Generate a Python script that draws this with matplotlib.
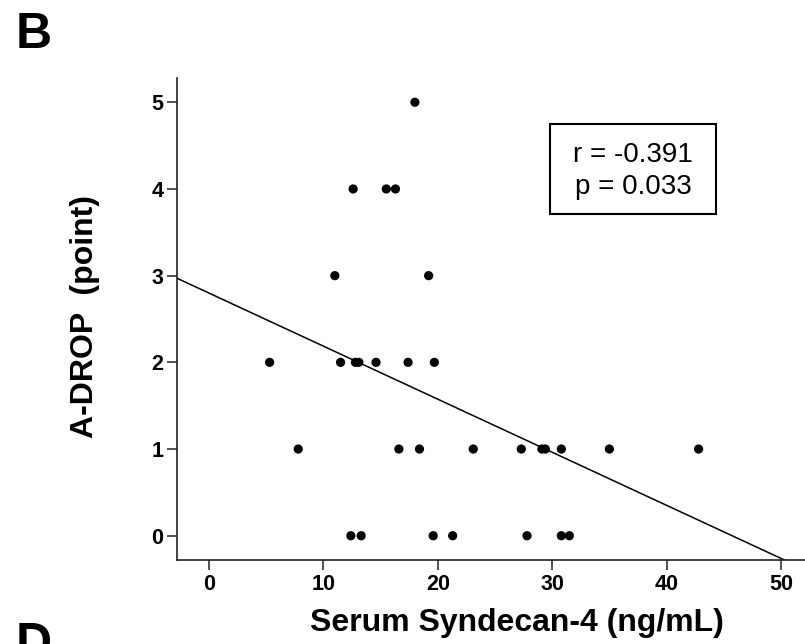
import numpy as np
import matplotlib
matplotlib.use("Agg")
import matplotlib.pyplot as plt
from matplotlib.patches import Rectangle

plt.rcParams['font.family'] = ['Liberation Sans', 'DejaVu Sans']

# Serum Syndecan-4 (ng/mL) vs A-DROP score
syndecan = [18.0,
            12.6, 15.5, 16.3,
            11.0, 19.2,
            5.3, 11.5, 12.8, 13.1, 14.6, 17.4, 19.7,
            7.8, 16.6, 18.4, 23.1, 27.3, 29.1, 29.4, 30.8, 35.0, 42.8,
            12.4, 13.3, 19.6, 21.3, 27.8, 30.8, 31.5]
adrop = [5,
         4, 4, 4,
         3, 3,
         2, 2, 2, 2, 2, 2, 2,
         1, 1, 1, 1, 1, 1, 1, 1, 1, 1,
         0, 0, 0, 0, 0, 0, 0]
xticks = [0, 10, 20, 30, 40, 50]
yticks = [0, 1, 2, 3, 4, 5]
stats_text = "r = -0.391\np = 0.033"

W, H = 805, 644
fig = plt.figure(figsize=(W / 100, H / 100), dpi=100)
ax = fig.add_axes([177.3 / W, 1 - 560 / H, 1 - 177.3 / W, (560 - 78) / H])

x = np.array(syndecan)
y = np.array(adrop)
ax.scatter(x, y, s=44, color='black', edgecolors='none', zorder=3, clip_on=False)

# least squares line across the whole plot area
slope, icpt = np.polyfit(x, y, 1)
xlim = (-2.77, 52.1)
ylim = (-0.28, 5.28)
xx = np.array(xlim)
ax.plot(xx, icpt + slope * xx, color='black', lw=1.1)

ax.set_xlim(*xlim)
ax.set_ylim(*ylim)
ax.set_xticks(xticks)
ax.set_yticks(yticks)
for s in ['top', 'right']:
    ax.spines[s].set_visible(False)
for s in ['left', 'bottom']:
    ax.spines[s].set_linewidth(1.2)
    ax.spines[s].set_color('#222222')
ax.tick_params(direction='out', length=7, width=1.1, color='#222222',
               labelsize=15.5, pad=3)
for lab in ax.get_xticklabels() + ax.get_yticklabels():
    lab.set_fontweight('bold')

fig.text(517 / W, 1 - 623 / H, "Serum Syndecan-4 (ng/mL)", fontsize=23,
         fontweight='bold', ha='center', va='center')
fig.text(85 / W, 1 - 317 / H, "A-DROP  (point)", fontsize=23,
         fontweight='bold', ha='center', va='center', rotation=90)

# stats box
fig.patches.append(Rectangle((550 / W, 1 - 214 / H), 166 / W, 90 / H,
                             transform=fig.transFigure, fill=False,
                             edgecolor='black', lw=1.5))
fig.text(633 / W, 1 - 171 / H, stats_text, fontsize=20, ha='center',
         va='center', linespacing=1.28)

fig.text(16 / W, 1 - 12 / H, "B", fontsize=36, fontweight='bold',
         ha='left', va='top')
fig.text(16 / W, 1 - 622 / H, "D", fontsize=36, fontweight='bold',
         ha='left', va='top')

fig.savefig("out.png", dpi=100)
